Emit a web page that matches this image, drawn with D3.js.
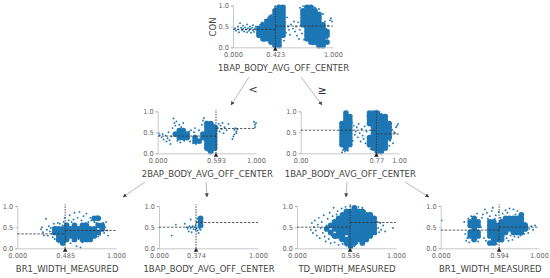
<!doctype html>
<html>
<head>
    <title>Decision tree</title>
    <script src='https://d3js.org/d3.v7.min.js'></script>
    <style>
        html, body { margin: 0; background: #fff; }
        text { font-family: "DejaVu Sans", sans-serif; }
    </style>
</head>
<body>
<svg width="550" height="278"></svg>
<script>
    // tick labels and split values
    var yTicks = [0, 0.5, 1];
    var names = ["1BAP_BODY_AVG_OFF_CENTER", "2BAP_BODY_AVG_OFF_CENTER", "1BAP_BODY_AVG_OFF_CENTER",
                 "BR1_WIDTH_MEASURED", "1BAP_BODY_AVG_OFF_CENTER", "TD_WIDTH_MEASURED", "BR1_WIDTH_MEASURED"];
    var splits = [0.423, 0.593, 0.77, 0.485, 0.374, 0.536, 0.594];
    var splitLabels = ["0.423", "0.593", "0.77", "0.485", "0.374", "0.536", "0.594"];
    var endLabels = [["0.000", "1.000"], ["0.000", "1.000"], ["0.00", "1.00"], ["0.000", "1.000"], ["0.000", "1.000"], ["0.000", "1.000"], ["0.000", "1.000"]];
    var leftMeans = [0.43, 0.41, 0.55, 0.34, 0.50, 0.50, 0.43];
    var rightMeans = [0.51, 0.59, 0.46, 0.42, 0.61, 0.61, 0.50];

    // dense parts of each cloud as an occupancy table:
    // 25 columns for x 0..1, 12 rows for y 1..0, # where the points fill the cell
    var cores = [
        ["...........##.....##.....",
         "..........###....####....",
         "..........###....#####...",
         ".........####....#####...",
         "........#####....#####...",
         ".......######....######..",
         "......#######.....#####..",
         "......#######.....######.",
         "......#######.....######.",
         ".......#####......#####..",
         ".........###.......#####.",
         "..........##.........##.."],
        [".........................",
         ".........................",
         ".........................",
         "............##...........",
         "............###..........",
         ".....##.....###..........",
         "....####...####..........",
         ".....###.#.####..........",
         ".........##.###..........",
         "............###..........",
         "............###..........",
         ".............#..........."],
        ["...........#.....###.....",
         "...........##....#####...",
         "...........##....#####...",
         "..........###....######..",
         "..........###.....#####..",
         "..........###.....#####..",
         "..........###.....#####..",
         "..........###....######..",
         "..........###....#####...",
         "..........###....#####...",
         "...........#......####...",
         "...................##...."],
        [".........................",
         ".........................",
         ".........................",
         "...................##....",
         ".........................",
         "............#.#.##..##...",
         ".........###########.#...",
         ".........############....",
         "..........##########.....",
         "..........###.#.###......",
         "...........#.............",
         "........................."],
        [".........................",
         ".........................",
         ".........................",
         "..........#..............",
         "..........#..............",
         "..........#..............",
         ".........................",
         ".........................",
         ".........................",
         ".........................",
         ".........................",
         "........................."],
        ["..............#..........",
         "............#####........",
         "...........########......",
         "..........##########.....",
         ".........###########.....",
         "........############.....",
         ".......#.###########.....",
         "........#.##########.....",
         ".........###.######......",
         "...........#######.......",
         "............###.#........",
         ".............#..........."],
        [".........................",
         ".........................",
         "....................#....",
         "........#.......#####....",
         ".......###..##.######....",
         ".......###..##########...",
         "........#...##########...",
         ".......###..#####.###....",
         ".......###..####.........",
         "........#....###.........",
         "............##...........",
         "........................."]
    ];

    // loose points around the cores
    var scatter = [
        [[.02,.46],[.03,.40],[.05,.50],[.05,.43],[.06,.36],[.07,.58],[.08,.47],[.09,.41],[.10,.52],[.10,.45],[.11,.38],[.12,.48],[.13,.43],[.14,.55],[.14,.36],[.15,.46],[.16,.40],[.17,.50],[.17,.44],[.18,.35],[.19,.47],[.20,.41],[.20,.53],[.21,.37],[.22,.46],[.23,.42],[.23,.50],[.24,.33],[.25,.44],[.25,.39],[.26,.48],[.27,.35],[.27,.54],[.28,.42],[.28,.30],[.29,.47],[.29,.60],[.30,.37],[.30,.25],[.31,.52],[.31,.15],[.32,.66],[.33,.20],[.34,.62],[.35,.70],[.36,.74],[.37,.10],[.38,.78],[.39,.68],[.40,.09],[.41,.82],[.42,.97],[.44,.94],[.46,.99],[.47,.04],[.48,.90],[.50,.86],[.51,.16],[.52,.60],[.53,.35],[.54,.72],[.55,.50],[.56,.42],[.57,.30],[.58,.55],[.60,.45],[.61,.62],[.62,.38],[.63,.50],[.64,.28],[.65,.60],[.66,.20],[.67,.42],[.67,.95],[.68,.55],[.69,.33],[.70,.99],[.71,.18],[.72,.98],[.74,1.0],[.76,.12],[.78,.99],[.80,.07],[.82,.96],[.84,.06],[.86,.92],[.88,.12],[.90,.80],[.91,.30],[.92,.62],[.93,.45],[.94,.22],[.95,.52],[.97,.65],[.98,.70],[.99,.62]],
        [[.01,.48],[.02,.43],[.04,.38],[.05,.46],[.06,.33],[.08,.42],[.09,.28],[.10,.36],[.11,.50],[.12,.31],[.13,.22],[.14,.40],[.15,.60],[.16,.83],[.17,.72],[.18,.66],[.19,.76],[.20,.30],[.22,.68],[.23,.26],[.24,.62],[.25,.35],[.26,.72],[.27,.30],[.28,.42],[.29,.38],[.30,.48],[.31,.34],[.32,.52],[.33,.28],[.34,.55],[.36,.24],[.37,.50],[.38,.60],[.39,.22],[.42,.55],[.44,.26],[.45,.68],[.46,.78],[.47,.84],[.48,.14],[.49,.75],[.50,.08],[.51,.06],[.53,.04],[.55,.10],[.56,.70],[.57,.20],[.58,.42],[.60,.55],[.61,.62],[.62,.70],[.63,.52],[.64,.66],[.65,.58],[.66,.72],[.67,.48],[.68,.62],[.70,.55],[.72,.70],[.78,.56],[.79,.60],[.80,.52],[.81,.57],[.77,.40],[.78,.45],[.76,.34],[.80,.48],[.99,.68],[1.0,.72],[.99,.62],[.98,.75]],
        [[.42,.02],[.43,.08],[.44,.14],[.45,.04],[.46,.88],[.47,.92],[.48,.06],[.49,.86],[.50,.80],[.51,.20],[.52,.74],[.53,.30],[.54,.66],[.55,.44],[.56,.52],[.57,.62],[.58,.38],[.59,.70],[.60,.48],[.61,.28],[.62,.58],[.63,.42],[.64,.34],[.65,.64],[.66,.24],[.67,.52],[.68,.90],[.69,.16],[.70,.96],[.71,.10],[.72,.95],[.74,.99],[.76,1.0],[.78,.96],[.80,.10],[.82,.94],[.84,.10],[.86,.90],[.87,.72],[.88,.50],[.89,.64],[.90,.18],[.91,.30],[.92,.40],[.93,.56],[.94,.24],[.95,.50],[.96,.48],[.97,.62],[.98,.66],[.99,.70]],
        [[.24,.45],[.25,.50],[.26,.38],[.27,.31],[.29,.70],[.30,.44],[.31,.30],[.32,.52],[.33,.40],[.34,.48],[.35,.34],[.36,.26],[.37,.58],[.38,.22],[.39,.50],[.40,.18],[.41,.60],[.42,.14],[.43,.58],[.44,.24],[.45,.10],[.46,.54],[.47,.62],[.48,.72],[.49,.16],[.50,.58],[.51,.20],[.52,.66],[.53,.78],[.54,.12],[.55,.62],[.56,.18],[.57,.68],[.58,.84],[.59,.24],[.60,.05],[.61,.72],[.62,.22],[.63,.86],[.64,.02],[.65,.66],[.66,.14],[.67,.76],[.68,.26],[.69,.60],[.70,.82],[.71,.20],[.72,.62],[.73,.28],[.74,.72],[.75,.66],[.76,.24],[.77,.74],[.78,.62],[.79,.30],[.80,.60],[.81,.76],[.82,.28],[.83,.56],[.84,.32],[.85,.52],[.86,.44],[.87,.60],[.88,.36],[.89,.50],[.90,.62],[.91,.42],[.92,.30]],
        [[.13,.30],[.17,.56],[.26,.58],[.28,.50],[.29,.46],[.30,.40],[.31,.52],[.32,.48],[.32,.68],[.33,.38],[.34,.52],[.35,.45],[.36,.50],[.37,.44],[.37,.55],[.38,.48],[.39,.42],[.40,.36],[.40,.50],[.41,.46],[.42,.44],[.42,.74],[.43,.52],[.39,.70],[.38,.62],[.43,.62]],
        [[.14,.44],[.15,.60],[.16,.36],[.17,.50],[.18,.66],[.19,.42],[.20,.30],[.21,.56],[.22,.72],[.23,.24],[.24,.48],[.25,.62],[.26,.36],[.27,.78],[.28,.28],[.29,.16],[.30,.54],[.31,.70],[.32,.22],[.33,.84],[.34,.12],[.35,.30],[.36,.76],[.37,.96],[.38,.14],[.39,.24],[.40,.80],[.41,.88],[.42,.08],[.43,.20],[.44,.72],[.45,.94],[.46,.10],[.47,.18],[.48,.84],[.49,.98],[.50,.06],[.51,.12],[.52,.90],[.53,.03],[.54,1.0],[.55,.08],[.56,.16],[.57,.96],[.58,.05],[.59,.22],[.60,.92],[.61,.12],[.62,.98],[.63,.20],[.64,.90],[.65,.28],[.66,.96],[.67,.16],[.68,.30],[.69,.88],[.70,.36],[.71,.20],[.72,.40],[.73,.84],[.74,.30],[.75,.50],[.76,.66],[.77,.40],[.78,.72],[.79,.56],[.80,.34],[.81,.62],[.82,.48],[.83,.38],[.84,.60],[.85,.44],[.87,.54],[.89,.40],[.97,.48]],
        [[.01,.66],[.24,.62],[.25,.34],[.26,.18],[.27,.24],[.28,.70],[.29,.14],[.30,.56],[.31,.76],[.32,.20],[.33,.48],[.34,.68],[.35,.74],[.36,.22],[.37,.82],[.38,.16],[.39,.66],[.40,.28],[.41,.50],[.42,.72],[.43,.80],[.44,.24],[.45,.92],[.46,.18],[.47,.84],[.48,.70],[.49,.30],[.50,.76],[.51,.14],[.52,.88],[.53,.96],[.54,.12],[.55,.70],[.56,.78],[.57,.10],[.58,.20],[.59,.86],[.60,.30],[.61,.72],[.62,.16],[.63,.82],[.64,.28],[.65,.34],[.66,.90],[.67,.24],[.68,.84],[.69,.18],[.70,.94],[.71,.30],[.72,.74],[.73,.20],[.74,.92],[.75,.28],[.76,.80],[.77,.34],[.78,.88],[.79,.26],[.80,.76],[.81,.30],[.82,.66],[.83,.38],[.84,.54],[.85,.34],[.86,.60],[.87,.44],[.88,.52],[.89,.36],[.90,.46],[.92,.52],[.94,.44],[.96,.54]]
    ];

    var svg = d3.select("svg");
    var color = "#1f77b4";

    // the reference is soft, a small blur takes the lumps off the clouds
    svg.append("defs").append("filter").attr("id", "soft")
        .append("feGaussianBlur").attr("stdDeviation", 0.45);

    // left edge, right edge, top of y range, baseline for each panel
    var boxes = [
        [233, 333, 5.7, 47.3],
        [157.7, 256, 111.3, 153.3],
        [300.7, 399, 111.3, 153.3],
        [17.3, 116, 206, 248.3],
        [159, 258, 206, 248.3],
        [297, 396, 206, 248.3],
        [440.7, 539, 206, 248.3]
    ];

    boxes.forEach(function(b, i) {
        var x = d3.scaleLinear().domain([0, 1]).range([b[0], b[1]]);
        var y = d3.scaleLinear().domain([0, 1]).range([b[3], b[2]]);
        var g = svg.append("g");
        var cloud = g.append("g").attr("filter", "url(#soft)");

        // turn the table into cell centres
        var cells = [];
        cores[i].forEach(function(row, r) {
            row.split("").forEach(function(c, k) {
                if (c == "#") cells.push([(k + 0.5) / 25, 1 - (r + 0.5) / 12]);
            });
        });

        cloud.selectAll(".cell").data(cells).enter().append("circle")
            .attr("class", "cell")
            .attr("cx", function(d) { return x(d[0]); })
            .attr("cy", function(d) { return y(d[1]); })
            .attr("r", 2.85)
            .attr("fill", color);

        cloud.selectAll(".dot").data(scatter[i]).enter().append("circle")
            .attr("class", "dot")
            .attr("cx", function(d) { return x(d[0]); })
            .attr("cy", function(d) { return y(d[1]); })
            .attr("r", 0.95)
            .attr("fill", color);

        // axes, only the bottom and left spines
        var ax = g.append("g").attr("transform", "translate(0," + b[3] + ")")
            .call(d3.axisBottom(x).tickValues([0, splits[i], 1]).tickSize(0).tickPadding(5)
                .tickFormat(function(d, k) { return k == 1 ? splitLabels[i] : endLabels[i][k / 2]; }));
        var ay = g.append("g").attr("transform", "translate(" + b[0] + ",0)")
            .call(d3.axisLeft(y).tickValues(yTicks).tickSize(2).tickPadding(2).tickFormat(d3.format(".1f")));
        [ax, ay].forEach(function(a) {
            a.select(".domain").attr("stroke", "#bbb").attr("stroke-width", 0.8);
            a.selectAll("line").attr("stroke", "#999").attr("stroke-width", 0.6);
            a.selectAll("text").attr("fill", "#666").style("font-size", "6.6px").style("font-family", "DejaVu Sans");
        });

        // split line and the two side means
        g.append("line").attr("x1", x(splits[i])).attr("x2", x(splits[i])).attr("y1", y(0)).attr("y2", y(1.04))
            .attr("stroke", "#333").attr("stroke-width", 0.9).attr("stroke-dasharray", "1.5,1.2");
        g.append("line").attr("x1", x(0)).attr("x2", x(splits[i])).attr("y1", y(leftMeans[i])).attr("y2", y(leftMeans[i]))
            .attr("stroke", "#333").attr("stroke-width", 0.8).attr("stroke-dasharray", "2.5,1.5");
        g.append("line").attr("x1", x(splits[i])).attr("x2", x(1)).attr("y1", y(rightMeans[i])).attr("y2", y(rightMeans[i]))
            .attr("stroke", "#333").attr("stroke-width", 0.8).attr("stroke-dasharray", "2.5,1.5");

        g.append("path")
            .attr("d", d3.symbol().type(d3.symbolTriangle).size(9))
            .attr("transform", "translate(" + x(splits[i]) + "," + (b[3] + 2.2) + ")")
            .attr("fill", "#222");

        g.append("text")
            .attr("x", (b[0] + b[1]) / 2 + 0.5)
            .attr("y", b[3] + 23.5)
            .attr("text-anchor", "middle")
            .attr("fill", "#444")
            .style("font-size", "8.5px")
            .text(names[i]);
    });

    svg.append("text")
        .attr("transform", "translate(216,27) rotate(-90)")
        .attr("text-anchor", "middle")
        .attr("fill", "#444")
        .style("font-size", "8.5px")
        .text("CON");

    // arrows between the nodes: parent panel to child panel
    var edges = [[249, 77, 231, 105], [301, 77, 322, 105], [145, 182, 123, 197], [206, 182, 207, 197], [347, 182, 346, 197], [405, 182, 429, 197]];
    svg.select("defs").append("marker")
        .attr("id", "tip").attr("viewBox", "0 0 6 6").attr("refX", 5.5).attr("refY", 3)
        .attr("markerWidth", 4).attr("markerHeight", 4).attr("orient", "auto").attr("markerUnits", "userSpaceOnUse")
        .append("path").attr("d", "M0,0L6,3L0,6z").attr("fill", "#444");
    svg.selectAll(".edge").data(edges).enter().append("line")
        .attr("class", "edge")
        .attr("x1", function(d) { return d[0]; }).attr("y1", function(d) { return d[1]; })
        .attr("x2", function(d) { return d[2]; }).attr("y2", function(d) { return d[3]; })
        .attr("stroke", "#999").attr("stroke-width", 0.7).attr("marker-end", "url(#tip)");

    svg.append("text").attr("x", 253).attr("y", 89)
        .attr("text-anchor", "middle").attr("dominant-baseline", "central")
        .attr("fill", "#333").style("font-size", "11px").text("<");
    svg.append("text").attr("x", 322).attr("y", 90)
        .attr("text-anchor", "middle").attr("dominant-baseline", "central")
        .attr("fill", "#333").style("font-size", "11px").text("≥");
</script>
</body>
</html>
